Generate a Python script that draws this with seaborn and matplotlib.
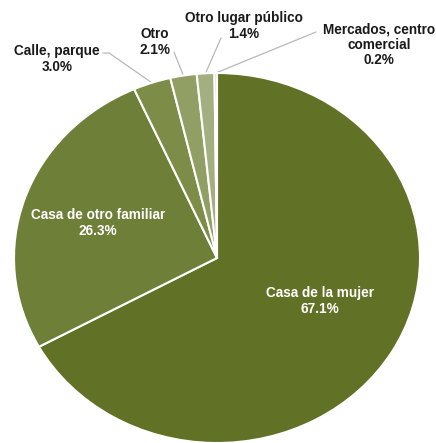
import numpy as np
import matplotlib
matplotlib.use("Agg")
import matplotlib.pyplot as plt
import seaborn as sns

sns.set_theme(style="white")
plt.rcParams['font.family'] = ['Liberation Sans', 'DejaVu Sans']

categories = ["Casa de la mujer", "Casa de otro familiar", "Calle, parque",
              "Otro", "Otro lugar público", "Mercados, centro\ncomercial"]
values = [67.1, 26.3, 3.0, 2.1, 1.4, 0.2]
colors = ["#617226", "#6e7f38", "#7d8d48", "#919f64", "#a3af80", "#c2caa6"]

W, H = 436, 443
fig = plt.figure(figsize=(W / 100, H / 100), dpi=100)
ax = fig.add_axes([0, 0, 1, 1])

wedges, _ = ax.pie(values, colors=colors, startangle=90, counterclock=False,
                   wedgeprops=dict(edgecolor="white", linewidth=1.5))

# pixel layout: center (217,258), radii 203 x 185
cx, cy, rx, ry = 217, 258, 203, 185
ax.set_aspect("auto")
ax.set_xlim(-cx / rx, (W - cx) / rx)
ax.set_ylim(-(H - cy) / ry, cy / ry)
ax.axis("off")

def px(x, y):
    return ((x - cx) / rx, (cy - y) / ry)

fs = 9.8
ls = 1.1
# inside labels
for i, pos in [(0, (320, 301)), (1, (98, 223))]:
    ax.text(*px(*pos), f"{categories[i]}\n{values[i]:.1f}%", color="white",
            fontsize=fs, fontweight="bold", ha="center", va="center",
            linespacing=ls)

# outside labels with leaders
outside = {2: ((57, 59), [(103, 53), (109, 53)]),
           3: ((155, 42), [(174, 52)]),
           4: ((244, 26), [(221, 38)]),
           5: ((379, 45), [(316, 32)])}
for i, (tpos, pts) in outside.items():
    w = wedges[i]
    ang = np.deg2rad((w.theta1 + w.theta2) / 2)
    end = (np.cos(ang) * 1.0, np.sin(ang) * 1.0)
    line = [px(*p) for p in pts] + [end]
    xs, ys = zip(*line)
    ax.plot(xs, ys, color="#b8b8b8", lw=0.9, zorder=0.5)
    ax.text(*px(*tpos), f"{categories[i]}\n{values[i]:.1f}%", color="#1a1a1a",
            fontsize=fs, fontweight="bold", ha="center", va="center",
            linespacing=ls)

fig.savefig("out.png", dpi=100, facecolor="white")
